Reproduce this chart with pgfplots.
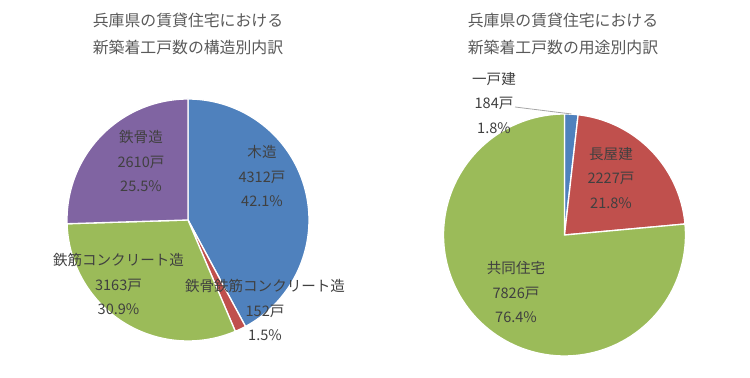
\documentclass[border=0pt]{standalone}
\usepackage{fontspec}
\setmainfont{Noto Sans CJK JP}
\usepackage{pgfplots}
\pgfplotsset{compat=1.18}
\definecolor{cblue}{HTML}{4F81BD}
\definecolor{cred}{HTML}{C0504D}
\definecolor{cgreen}{HTML}{9BBB59}
\definecolor{cpurple}{HTML}{8064A2}
\definecolor{ctxt}{HTML}{404040}
\definecolor{ctitle}{HTML}{595959}
\definecolor{cleader}{HTML}{A6A6A6}
\pgfplotsset{
  pie/.style={hide axis, scale only axis, clip=false, height=283.5pt, anchor=south west},
  slice/.style={draw=white, line width=1pt, data cs=polar, samples=120},
}
\tikzset{
  lbl/.style={align=center, text=ctxt, font=\fontsize{10.9}{18.4}\selectfont, inner sep=0pt},
  ttl/.style={align=center, text=ctitle, font=\fontsize{11.9}{20.25}\selectfont, inner sep=0pt},
}
\begin{document}
\begin{tikzpicture}
\path[use as bounding box] (0pt,0pt) rectangle (562.5pt,283.5pt);
% ---------- left pie: structure (total 10237) ----------
\begin{axis}[pie, at={(0pt,0pt)}, width=281.25pt,
  xmin=-188, xmax=187, ymin=-158, ymax=220]
% 木造 4312
\addplot[slice, fill=cblue, domain=90:-61.64] {121} -- (axis cs:0,0) -- cycle;
% 鉄骨鉄筋コンクリート造 152
\addplot[slice, fill=cred, domain=-61.64:-66.99] {121} -- (axis cs:0,0) -- cycle;
% 鉄筋コンクリート造 3163
\addplot[slice, fill=cgreen, domain=-66.99:-178.22] {121} -- (axis cs:0,0) -- cycle;
% 鉄骨造 2610
\addplot[slice, fill=cpurple, domain=-178.22:-270] {121} -- (axis cs:0,0) -- cycle;
\node[ttl] at (axis cs:0,186.5) {兵庫県の賃貸住宅における\\新築着工戸数の構造別内訳};
\node[lbl] at (axis cs:74,44) {木造\\4312戸\\42.1\%};
\node[lbl] at (axis cs:-47,59) {鉄骨造\\2610戸\\25.5\%};
\node[lbl] at (axis cs:-69.5,-64) {鉄筋コンクリート造\\3163戸\\30.9\%};
\node[lbl] at (axis cs:77,-90) {鉄骨鉄筋コンクリート造\\152戸\\1.5\%};
\end{axis}
% ---------- right pie: use (total 10237) ----------
\begin{axis}[pie, at={(281.25pt,0pt)}, width=281.25pt,
  xmin=-189.5, xmax=185.5, ymin=-143, ymax=235]
% 一戸建 184
\addplot[slice, fill=cblue, domain=90:83.53] {121} -- (axis cs:0,0) -- cycle;
% 長屋建 2227
\addplot[slice, fill=cred, domain=83.53:5.21] {121} -- (axis cs:0,0) -- cycle;
% 共同住宅 7826
\addplot[slice, fill=cgreen, domain=5.21:-270] {121} -- (axis cs:0,0) -- cycle;
\node[ttl] at (axis cs:-1.5,201.5) {兵庫県の賃貸住宅における\\新築着工戸数の用途別内訳};
\draw[cleader, line width=0.6pt] (axis cs:-49.5,128) -- (axis cs:7,121);
\node[lbl] at (axis cs:-70.5,132) {一戸建\\184戸\\1.8\%};
\node[lbl] at (axis cs:46.5,57) {長屋建\\2227戸\\21.8\%};
\node[lbl] at (axis cs:-48.5,-57) {共同住宅\\7826戸\\76.4\%};
\end{axis}
\end{tikzpicture}
\end{document}
